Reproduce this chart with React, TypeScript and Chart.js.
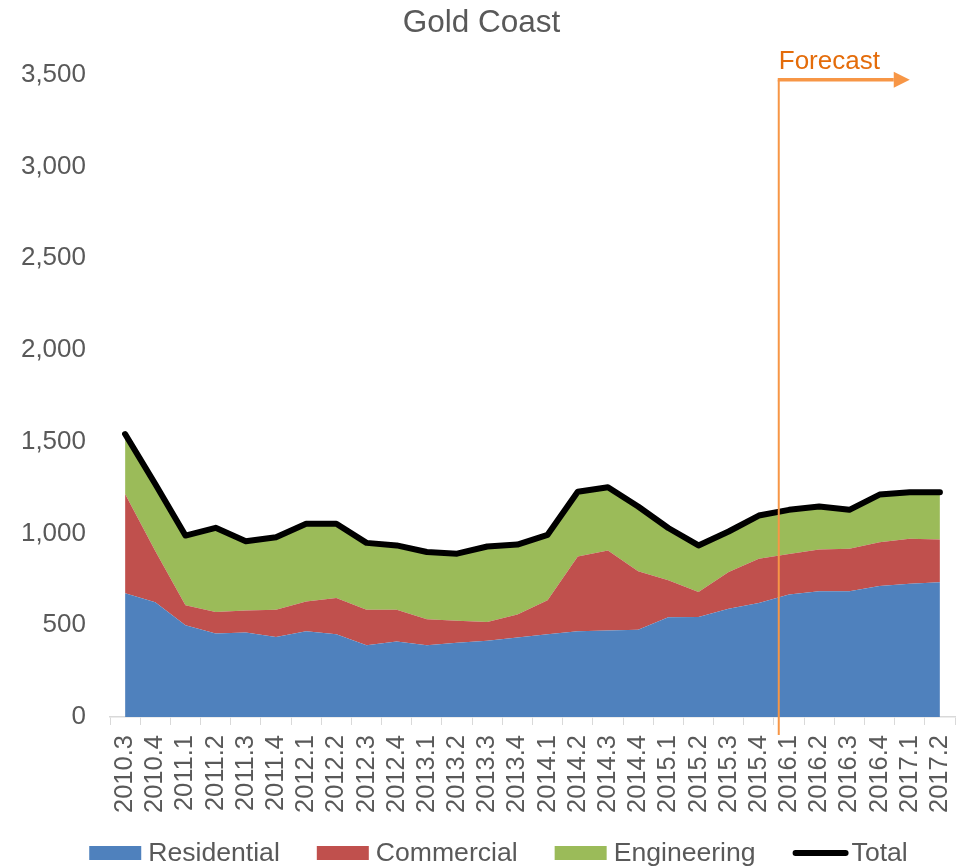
import React, { useEffect, useRef } from 'react';
import { Chart, registerables } from 'chart.js';

Chart.register(...registerables);

const title = 'Gold Coast';
const categories = [
  '2010.3', '2010.4',
  '2011.1', '2011.2', '2011.3', '2011.4',
  '2012.1', '2012.2', '2012.3', '2012.4',
  '2013.1', '2013.2', '2013.3', '2013.4',
  '2014.1', '2014.2', '2014.3', '2014.4',
  '2015.1', '2015.2', '2015.3', '2015.4',
  '2016.1', '2016.2', '2016.3', '2016.4',
  '2017.1', '2017.2',
];
const residential = [675, 626, 500, 455, 460, 436, 467, 451, 391, 411, 391, 404, 415, 433, 451, 467, 471, 476, 543, 545, 590, 621, 668, 686, 686, 714, 726, 735];
const commercial = [541, 279, 109, 117, 121, 149, 163, 198, 194, 174, 142, 120, 103, 125, 185, 408, 437, 319, 202, 136, 200, 241, 221, 227, 231, 239, 245, 232];
const engineering = [326, 365, 380, 459, 377, 395, 423, 404, 364, 350, 366, 366, 411, 382, 357, 353, 344, 352, 285, 254, 221, 236, 240, 234, 212, 259, 254, 258];
const total = [1542, 1270, 989, 1031, 958, 980, 1053, 1053, 949, 935, 899, 890, 929, 940, 993, 1228, 1252, 1147, 1030, 935, 1011, 1098, 1129, 1147, 1129, 1212, 1225, 1225];
const yMin = 0;
const yMax = 3500;
const yStep = 500;
const forecastLabel = 'Forecast';
const forecastAfterIndex = 21; // forecast marker sits between 2015.4 and 2016.1
const forecastFraction = 0.66;

const FONT = '"Liberation Sans", Arial, sans-serif';
const GREY = '#595959';

const forecastPlugin = {
  id: 'forecastMarker',
  afterDraw(chart: any) {
    const ctx = chart.ctx;
    const xs = chart.scales.x;
    const ys = chart.scales.y;
    const p0 = xs.getPixelForValue(forecastAfterIndex);
    const p1 = xs.getPixelForValue(forecastAfterIndex + 1);
    const lx = p0 + (p1 - p0) * forecastFraction;
    const top = ys.getPixelForValue(yMax) + 5;
    const bottom = ys.getPixelForValue(yMin) + 18;
    const arrowEnd = lx + 115;
    ctx.save();
    ctx.strokeStyle = '#F79646';
    ctx.fillStyle = '#F79646';
    ctx.lineWidth = 2;
    ctx.beginPath();
    ctx.moveTo(lx, bottom);
    ctx.lineTo(lx, top);
    ctx.stroke();
    ctx.lineWidth = 3.5;
    ctx.beginPath();
    ctx.moveTo(lx - 1, top);
    ctx.lineTo(arrowEnd, top);
    ctx.stroke();
    ctx.beginPath();
    ctx.moveTo(arrowEnd, top - 8);
    ctx.lineTo(arrowEnd + 16, top);
    ctx.lineTo(arrowEnd, top + 8);
    ctx.closePath();
    ctx.fill();
    ctx.fillStyle = '#E46C0A';
    ctx.font = `26px ${FONT}`;
    ctx.textAlign = 'left';
    ctx.textBaseline = 'alphabetic';
    ctx.fillText(forecastLabel, lx, top - 11);
    ctx.restore();
  },
};

// Legend drawn from the chart's own datasets (labels & colours)
const legendPlugin = {
  id: 'bottomLegend',
  afterDraw(chart: any) {
    const ctx = chart.ctx;
    const ds = chart.data.datasets;
    const boxW = 52;
    const boxH = 14;
    const gapText = 7;
    const gapItem = 37;
    ctx.save();
    ctx.font = `26.6px ${FONT}`;
    const widths = ds.map((d: any) => boxW + gapText + ctx.measureText(d.label).width);
    const totalW = widths.reduce((a: number, b: number) => a + b, 0) + gapItem * (ds.length - 1);
    let x = chart.width / 2 + 15 - totalW / 2;
    const cy = chart.height - 15;
    ds.forEach((d: any, i: number) => {
      if (d.fill === false) {
        ctx.strokeStyle = d.borderColor;
        ctx.lineWidth = 6;
        ctx.lineCap = 'round';
        ctx.beginPath();
        ctx.moveTo(x + 3, cy);
        ctx.lineTo(x + boxW + 1, cy);
        ctx.stroke();
      } else {
        ctx.fillStyle = d.backgroundColor;
        ctx.fillRect(x, cy - boxH / 2, boxW, boxH);
      }
      ctx.fillStyle = GREY;
      ctx.textAlign = 'left';
      ctx.textBaseline = 'middle';
      ctx.fillText(d.label, x + boxW + gapText, cy + 1);
      x += widths[i] + gapItem;
    });
    ctx.restore();
  },
};

export default function App() {
  const canvasRef = useRef<HTMLCanvasElement | null>(null);

  useEffect(() => {
    const prevOverflow = document.body.style.overflow;
    document.body.style.overflow = 'hidden';
    if (!canvasRef.current) return;
    const chart = new Chart(canvasRef.current, {
      type: 'line',
      data: {
        labels: categories,
        datasets: [
          {
            label: 'Residential',
            data: residential,
            backgroundColor: '#4F81BD',
            borderColor: '#4F81BD',
            borderWidth: 0,
            fill: 'origin',
            pointRadius: 0,
            tension: 0,
            stack: 'areas',
            order: 1,
          },
          {
            label: 'Commercial',
            data: commercial,
            backgroundColor: '#C0504D',
            borderColor: '#C0504D',
            borderWidth: 0,
            fill: '-1',
            pointRadius: 0,
            tension: 0,
            stack: 'areas',
            order: 1,
          },
          {
            label: 'Engineering',
            data: engineering,
            backgroundColor: '#9BBB59',
            borderColor: '#9BBB59',
            borderWidth: 0,
            fill: '-1',
            pointRadius: 0,
            tension: 0,
            stack: 'areas',
            order: 1,
          },
          {
            label: 'Total',
            data: total,
            backgroundColor: '#000000',
            borderColor: '#000000',
            borderWidth: 6,
            borderCapStyle: 'round',
            borderJoinStyle: 'round',
            fill: false,
            pointRadius: 0,
            tension: 0,
            stack: 'total',
            order: 0,
          },
        ],
      },
      options: {
        animation: false,
        responsive: true,
        maintainAspectRatio: false,
        layout: { padding: { top: 0, right: 4, bottom: 56, left: 0 } },
        plugins: {
          title: {
            display: true,
            text: title,
            color: GREY,
            font: { family: FONT, size: 31.5, weight: 'normal' },
            padding: { top: -4, bottom: 33 },
          },
          legend: { display: false },
          tooltip: { enabled: false },
        },
        scales: {
          x: {
            offset: true,
            grid: {
              display: true,
              drawOnChartArea: false,
              drawTicks: true,
              tickLength: 8,
              color: '#D9D9D9',
              offset: true,
            },
            border: { display: true, color: '#D9D9D9', width: 1.5 },
            ticks: {
              autoSkip: false,
              maxRotation: 90,
              minRotation: 90,
              color: GREY,
              font: { family: FONT, size: 25.5 },
              padding: 10,
            },
            afterFit: (s: any) => {
              s.paddingLeft = 0;
              s.paddingRight = 0;
              s.height = 95;
            },
          },
          y: {
            stacked: true,
            min: yMin,
            max: yMax,
            grid: { display: false, drawTicks: false },
            border: { display: false },
            ticks: {
              stepSize: yStep,
              color: GREY,
              font: { family: FONT, size: 26 },
              padding: 24,
              callback: (v: any) => Number(v).toLocaleString('en-US'),
            },
            afterFit: (s: any) => {
              s.width = 102;
            },
          },
        },
      },
      plugins: [forecastPlugin, legendPlugin],
    } as any);
    return () => {
      chart.destroy();
      document.body.style.overflow = prevOverflow;
    };
  }, []);

  return (
    <div style={{ width: 951, height: 860, position: 'relative' }}>
      <canvas ref={canvasRef} />
    </div>
  );
}
